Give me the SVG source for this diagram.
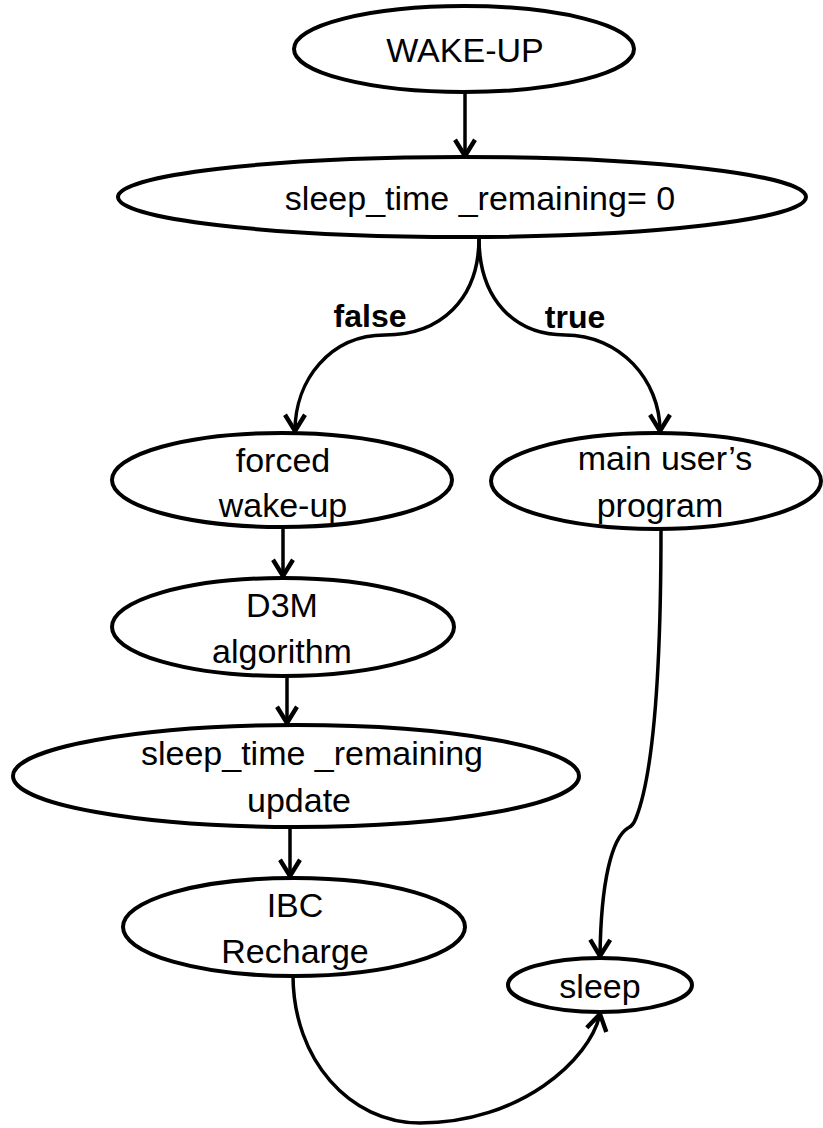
<svg xmlns="http://www.w3.org/2000/svg" width="823" height="1128" viewBox="0 0 823 1128">
  <style>
    .node ellipse { fill: #ffffff; stroke: #000000; stroke-width: 4; }
    .node text { font-family: "Liberation Sans", Arial, sans-serif; font-size: 34px; fill: #000000; text-anchor: middle; }
    .edge { fill: none; stroke: #000000; stroke-width: 3.5; marker-end: url(#arrow); }
    .label { font-family: "Liberation Sans", Arial, sans-serif; font-size: 32px; font-weight: bold; fill: #000000; text-anchor: middle; }
  </style>
  <defs>
    <marker id="arrow" markerUnits="userSpaceOnUse" markerWidth="30" markerHeight="30" viewBox="-16 -12 20 24" refX="0" refY="0" orient="auto">
      <path d="M-13,-8 L0,0 L-13,8" fill="none" stroke="#000000" stroke-width="3.5" stroke-linejoin="miter"/>
    </marker>
  </defs>

  <rect width="823" height="1128" fill="#ffffff"/>

  <!-- connectors -->
  <g id="connectors">
    <path class="edge" d="M465,92 L465,156"/>
    <path class="edge" d="M479,238 C479,300 440,335 385,335 C330,335 295,380 295,431"/>
    <path class="edge" d="M479,238 C479,300 515,335 565,335 C620,335 660,380 660,431"/>
    <path class="edge" d="M283,528 L283,576"/>
    <path class="edge" d="M287,677 L287,723"/>
    <path class="edge" d="M290,828 L290,876"/>
    <path class="edge" d="M661,529 C661,660 655,770 636,818 Q633,826 628,828 C612,838 601,880 600,956"/>
    <path class="edge" d="M293,975 C293,1060 350,1123 420,1123 C520,1123 590,1060 600,1014"/>
    <text class="label" x="370" y="327">false</text>
    <text class="label" x="575" y="328">true</text>
  </g>

  <!-- nodes -->
  <g id="wake-up" class="node">
    <ellipse cx="464" cy="49" rx="170" ry="43"/>
    <text x="465" y="62">WAKE-UP</text>
  </g>
  <g id="sleep-time-check" class="node">
    <ellipse cx="462" cy="197" rx="344" ry="40"/>
    <text x="480" y="210">sleep_time _remaining= 0</text>
  </g>
  <g id="forced-wake-up" class="node">
    <ellipse cx="282" cy="480" rx="170" ry="47"/>
    <text x="283" y="472">forced</text>
    <text x="283" y="517">wake-up</text>
  </g>
  <g id="main-program" class="node">
    <ellipse cx="656" cy="481" rx="165" ry="48"/>
    <text x="665" y="470">main user’s</text>
    <text x="660" y="517">program</text>
  </g>
  <g id="d3m" class="node">
    <ellipse cx="283" cy="627" rx="171" ry="49"/>
    <text x="282" y="617">D3M</text>
    <text x="282" y="663">algorithm</text>
  </g>
  <g id="remaining-update" class="node">
    <ellipse cx="296" cy="776" rx="283" ry="51"/>
    <text x="312" y="765">sleep_time _remaining</text>
    <text x="299" y="812">update</text>
  </g>
  <g id="ibc-recharge" class="node">
    <ellipse cx="294" cy="927" rx="171" ry="49"/>
    <text x="295" y="917">IBC</text>
    <text x="295" y="963">Recharge</text>
  </g>
  <g id="sleep" class="node">
    <ellipse cx="600" cy="985" rx="92" ry="27"/>
    <text x="600" y="998">sleep</text>
  </g>
</svg>
